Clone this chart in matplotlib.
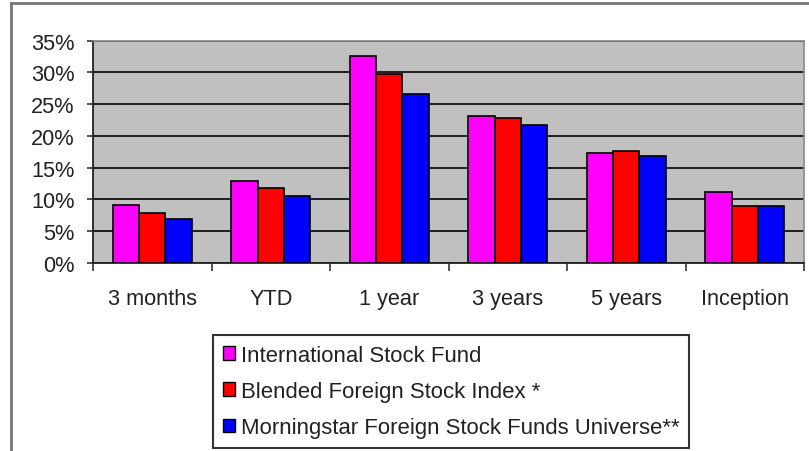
import matplotlib.pyplot as plt
import numpy as np
from matplotlib.patches import Patch
from matplotlib.lines import Line2D

categories = ["3 months", "YTD", "1 year", "3 years", "5 years", "Inception"]
series_names = ["International Stock Fund",
                "Blended Foreign Stock Index *",
                "Morningstar Foreign Stock Funds Universe**"]
intl_fund = [9.2, 12.9, 32.6, 23.1, 17.3, 11.1]
blended_index = [7.8, 11.8, 29.7, 22.8, 17.6, 8.9]
morningstar = [7.0, 10.5, 26.6, 21.7, 16.8, 8.9]
yticks = [0, 5, 10, 15, 20, 25, 30, 35]

colors = ['#FF00FF', '#FF0000', '#0000FF']
series = [intl_fund, blended_index, morningstar]

plt.rcParams['font.family'] = ['Liberation Sans', 'DejaVu Sans']

W, H = 809, 452
fig = plt.figure(figsize=(W / 100, H / 100), dpi=100)
ax = fig.add_axes([93 / W, 1 - 264 / H, (804 - 93) / W, (264 - 41.5) / H])
ax.set_facecolor('#C0C0C0')

x = np.arange(len(categories))
bw = 0.223
for i, vals in enumerate(series):
    ax.bar(x + (i - 1) * bw, vals, width=bw, color=colors[i],
           edgecolor='black', linewidth=1.2, zorder=3, label=series_names[i])

ax.set_xlim(-0.5, len(categories) - 0.5)
ax.set_ylim(0, 35)
ax.set_yticks(yticks)
ax.set_yticklabels([f"{t}%" for t in yticks])
ax.set_axisbelow(True)
ax.grid(axis='y', color='#111111', linewidth=1.3, zorder=1)

ax.set_xticks(x)
ax.set_xticklabels(categories)
ax.set_xticks(np.arange(len(categories) + 1) - 0.5, minor=True)
ax.tick_params(axis='x', which='major', length=0, pad=18, labelsize=15.7,
               labelcolor='#222222')
ax.tick_params(axis='x', which='minor', length=6, width=1.2, color='#333333')
ax.tick_params(axis='y', length=4.3, width=1.2, pad=9, labelsize=15.7,
               labelcolor='#222222', color='#333333')

for s in ['left', 'bottom']:
    ax.spines[s].set_color('#222222')
    ax.spines[s].set_linewidth(1.3)
for s in ['top', 'right']:
    ax.spines[s].set_color('#888888')
    ax.spines[s].set_linewidth(1.2)

# outer chart frame (only top and left visible)
fig.add_artist(Line2D([11 / W, 11 / W], [0, 1 - 4 / H], transform=fig.transFigure,
                      color='#777777', linewidth=2))
fig.add_artist(Line2D([11 / W, 1], [1 - 4 / H, 1 - 4 / H], transform=fig.transFigure,
                      color='#777777', linewidth=2))

handles = [Patch(facecolor=colors[i], edgecolor='black', linewidth=1.0,
                 label=series_names[i]) for i in range(3)]
leg = fig.legend(handles=handles, loc='upper left',
                 bbox_to_anchor=(213 / W, 1 - 336 / H),
                 fontsize=15.9, frameon=True, fancybox=False,
                 handlelength=0.55, handleheight=0.55, handletextpad=0.25,
                 labelspacing=0.68, borderpad=0.45, borderaxespad=0)
leg.get_frame().set_edgecolor('black')
leg.get_frame().set_linewidth(1.5)
for t in leg.get_texts():
    t.set_color('#222222')

fig.savefig("out.png", dpi=100)
plt.close(fig)
